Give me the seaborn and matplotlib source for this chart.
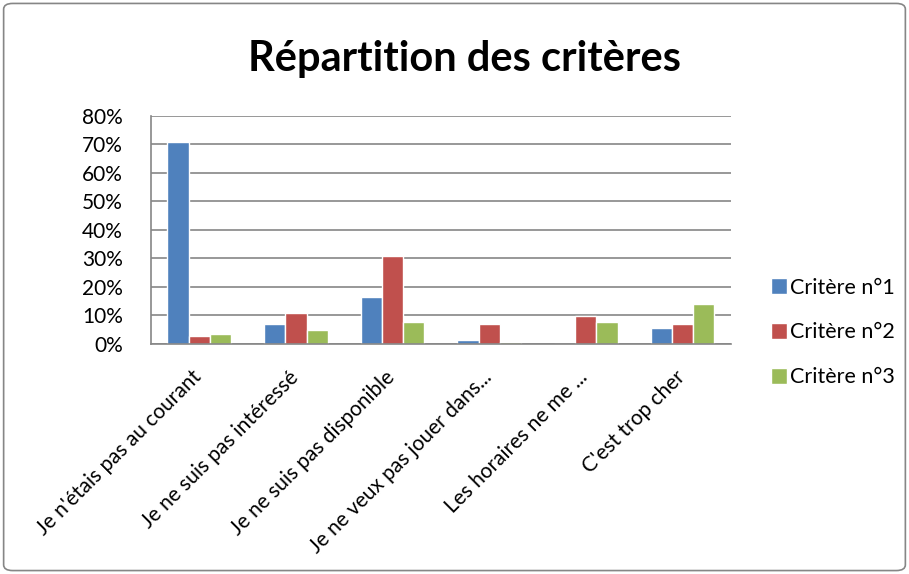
import pandas as pd
import matplotlib.pyplot as plt
import matplotlib.transforms as mtransforms
import seaborn as sns
from matplotlib.patches import FancyBboxPatch
from matplotlib.ticker import PercentFormatter

categories = [
    "Je n'étais pas au courant",
    "Je ne suis pas intéressé",
    "Je ne suis pas disponible",
    "Je ne veux pas jouer dans...",
    "Les horaires ne me ...",
    "C'est trop cher",
]
series_names = ["Critère n°1", "Critère n°2", "Critère n°3"]
critere1 = [71.0, 6.8, 16.5, 1.5, 0.0, 5.4]
critere2 = [2.8, 10.7, 31.0, 6.8, 9.6, 6.8]
critere3 = [3.5, 4.8, 7.5, 0.8, 7.5, 14.0]
colors = ["#4F81BD", "#C0504D", "#9BBB59"]

rows = []
for name, vals in zip(series_names, [critere1, critere2, critere3]):
    for cat, v in zip(categories, vals):
        rows.append({"Catégorie": cat, "Valeur": v, "Critère": name})
df = pd.DataFrame(rows)

sns.set_style("white")
plt.rcParams["font.family"] = ["Lato", "DejaVu Sans"]
plt.rcParams["text.color"] = "black"
plt.rcParams["xtick.color"] = "black"
plt.rcParams["ytick.color"] = "black"

fig = plt.figure(figsize=(9.09, 5.74), dpi=100)
ax = fig.add_axes([0.166, 0.401, 0.638, 0.397])

sns.barplot(data=df, x="Catégorie", y="Valeur", hue="Critère",
            palette=colors, width=0.66, saturation=1, ax=ax)

ax.set_ylim(0, 80)
ax.set_yticks(range(0, 81, 10))
ax.yaxis.set_major_formatter(PercentFormatter(decimals=0))
ax.grid(axis="y", color="#868686", linewidth=1.2)
ax.set_axisbelow(True)
for side in ["top", "right"]:
    ax.spines[side].set_visible(False)
for side in ["left", "bottom"]:
    ax.spines[side].set_color("#868686")
    ax.spines[side].set_linewidth(1.2)
ax.set_xlim(-0.5, 5.5)
ax.set_xlabel("")
ax.set_ylabel("")
ax.tick_params(axis="y", length=0, pad=20, labelsize=15)
ax.tick_params(axis="x", length=0, pad=8, labelsize=15)

# décalage des étiquettes inclinées (vers le bas et la gauche)
shift = mtransforms.ScaledTranslation(-0.08, -0.12, fig.dpi_scale_trans)
for lab in ax.get_xticklabels():
    lab.set_rotation(45)
    lab.set_ha("right")
    lab.set_rotation_mode("anchor")
    lab.set_transform(lab.get_transform() + shift)

ax.legend(loc="center left", bbox_to_anchor=(1.035, 0.05), frameon=False,
          fontsize=15.5, handlelength=0.75, handleheight=0.75, handletextpad=0.15,
          labelspacing=1.15)

fig.suptitle("Répartition des critères", x=0.511, y=0.93, fontsize=30,
             fontweight="bold")

border = FancyBboxPatch((0.004, 0.006), 0.992, 0.988,
                        boxstyle="round,pad=0,rounding_size=0.01",
                        transform=fig.transFigure, fill=False,
                        edgecolor="#868686", linewidth=1.2)
fig.patches.append(border)

fig.savefig("out.png", dpi=100)
